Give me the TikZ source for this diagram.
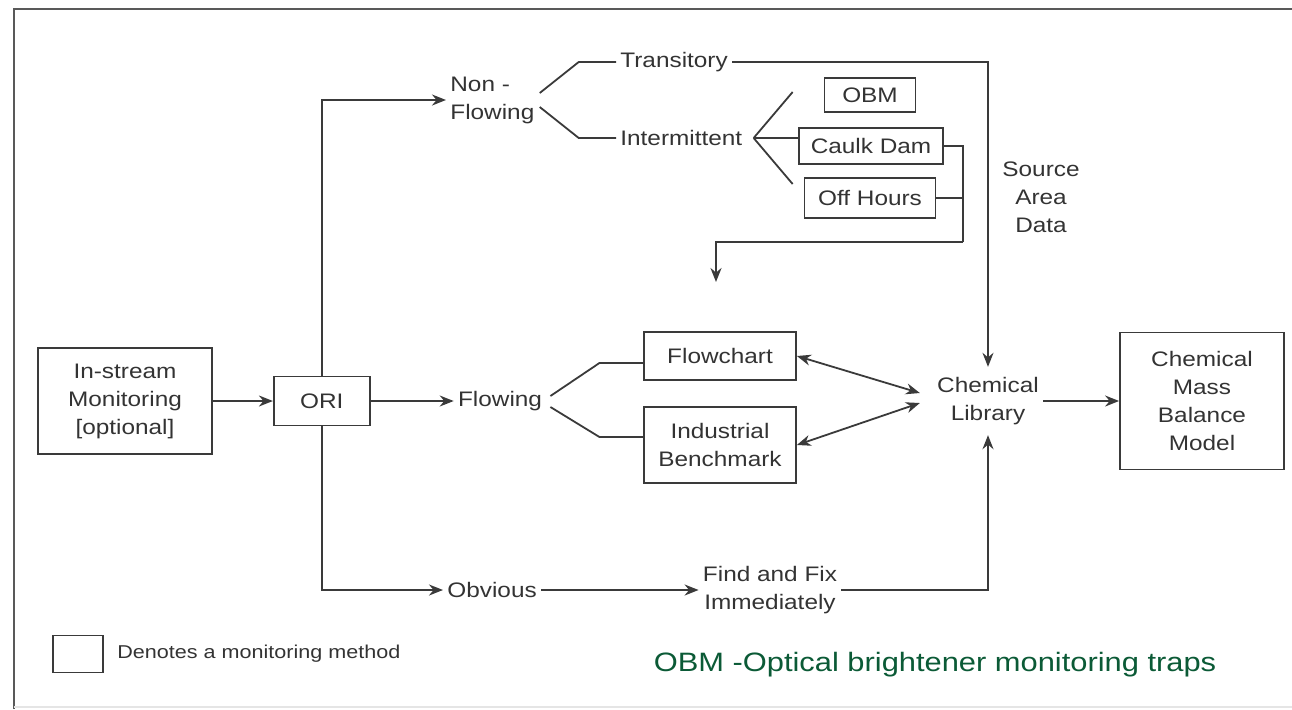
\documentclass[tikz,border=0pt]{standalone}
\usepackage{fontspec}
\setmainfont{Liberation Sans}[FakeStretch=1.16]
\usepackage{xcolor}
\usepackage{tikz}
\usetikzlibrary{arrows.meta,positioning}
\definecolor{ink}{HTML}{333333}
\definecolor{rim}{HTML}{3A3A3A}
\definecolor{obmgreen}{HTML}{0B5A36}
\newcommand{\diagfont}{\fontsize{10.5}{14}\selectfont}
\newcommand{\legfont}{\fontsize{9.3}{11}\selectfont}
\newcommand{\notefont}{\fontsize{13.3}{16}\selectfont}

\begin{document}
\begin{tikzpicture}[x=0.5pt,y=-0.5pt,>={Stealth[length=7pt,width=5.5pt]},
    box/.style={draw=rim,line width=0.9pt,align=center,inner sep=2pt,text=ink,font=\diagfont},
    lbl/.style={align=center,inner sep=2pt,text=ink,font=\diagfont},
    link/.style={draw=rim,line width=0.9pt},
    arr/.style={link,->}]
    \useasboundingbox (0,0) rectangle (1292,709);
    \draw[black!65,line width=1.1pt] (1292,9) -- (14,9) -- (14,709);
    \draw[black!10,line width=0.8pt] (14,707) -- (1292,707);

    \node[box,minimum width=87pt,minimum height=53pt] (instream) at (125,401) {In-stream\\Monitoring\\{[optional]}};
    \node[box,minimum width=48pt,minimum height=24.5pt,right=30pt of instream] (ori) {ORI};
    \node[lbl,right=41.5pt of ori] (flowing) {Flowing};
    \node[lbl,align=left,anchor=west] (nonflow) at (446,100) {Non -\\Flowing};
    \node[lbl,anchor=west] (obvious) at (443,590) {Obvious};
    \node[lbl,anchor=west] (transit) at (616,62) {Transitory};
    \node[lbl,anchor=west] (intermit) at (616,138) {Intermittent};
    \node[box,minimum width=45.5pt,minimum height=17pt] (obm) at (870,95) {OBM};
    \node[box,minimum width=72pt,minimum height=18pt] (caulk) at (871,146) {Caulk Dam};
    \node[box,minimum width=65.5pt,minimum height=20pt] (offhrs) at (870,198) {Off Hours};
    \node[box,minimum width=76pt,minimum height=24pt] (flowchart) at (720,356) {Flowchart};
    \node[box,minimum width=76pt,minimum height=38pt] (industrial) at (720,445) {Industrial\\Benchmark};
    \node[lbl,inner ysep=5pt] (chemlib) at (988,401) {Chemical\\Library};
    \node[box,minimum width=82pt,minimum height=68.5pt] (cmb) at (1202,401) {Chemical\\Mass\\Balance\\Model};
    \node[lbl] (srcdata) at (1041,197) {Source\\Area\\Data};
    \node[lbl] (findfix) at (770,590) {Find and Fix\\Immediately};
    \node[box,minimum width=25pt,minimum height=18.5pt] (legbox) at (78,654) {};
    \node[inner sep=0pt,text=ink,font=\legfont,right=6.5pt of legbox] (legtext) {Denotes a monitoring method};
    \node[text=obmgreen,font=\notefont] (obmnote) at (935,665) {OBM -Optical brightener monitoring traps};

    \coordinate (fan) at ([xshift=3.5pt]intermit.east);
    \coordinate (merge) at (963,242);
    \coordinate (drop) at (716,282);

    \draw[arr] (instream) -- (ori);
    \draw[arr] (ori) -- (flowing);
    \draw[arr] (ori.north) |- (nonflow.west);
    \draw[arr] (ori.south) |- (obvious.west);
    \draw[link] ([shift={(1,-7)}]nonflow.east) -- ++(39,-31) -- (transit.west);
    \draw[link] ([shift={(1,7)}]nonflow.east) -- ++(39,31) -- (intermit.west);
    \draw[arr] (transit.east) -| (chemlib.north);
    \draw[link] (fan) -- ++(39,-46);
    \draw[link] (fan) -- (caulk.west |- fan);
    \draw[link] (fan) -- ++(39,46);
    \draw[link] (caulk.east) -| (merge);
    \draw[link] (offhrs.east) -- (offhrs.east -| merge);
    \draw[arr] (merge) -| (drop);
    \draw[link] ([shift={(4,-5)}]flowing.east) -- ++(49,-33) -- ([yshift=-3.5pt]flowchart.west);
    \draw[link] ([shift={(4,6)}]flowing.east) -- ++(49,30) -- ([yshift=4pt]industrial.west);
    \draw[arr,<->] (flowchart.east) -- ([shift={(-13,-8)}]chemlib.west);
    \draw[arr,<->] (industrial.east) -- ([shift={(-13,2)}]chemlib.west);
    \draw[arr] (chemlib) -- (cmb);
    \draw[arr] (obvious) -- (findfix);
    \draw[arr] (findfix.east) -| (chemlib.south);
  \end{tikzpicture}
\end{document}
